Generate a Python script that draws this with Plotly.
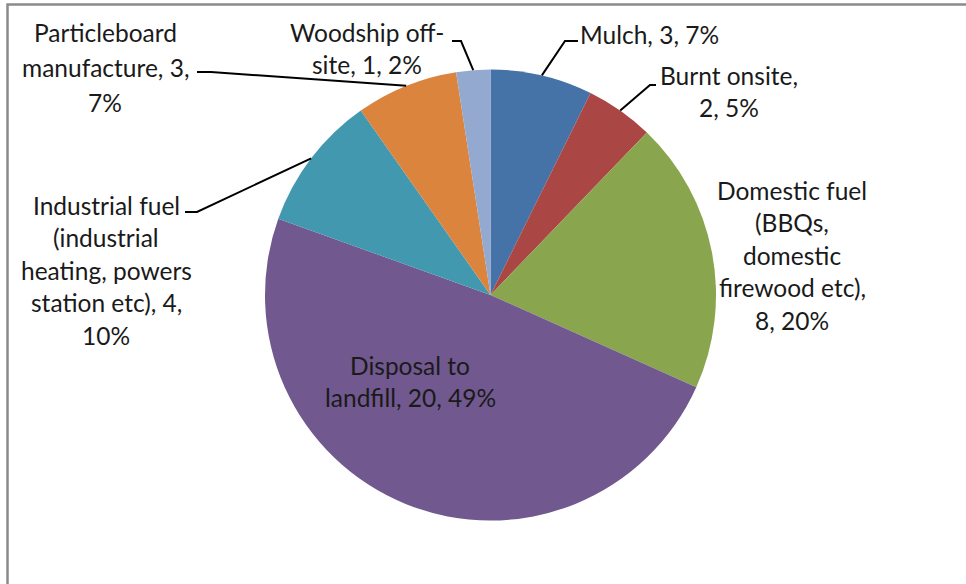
import math
import plotly.graph_objects as go

# Wood waste destinations (counts) in drawing order, clockwise from 12 o'clock
categories = [
    "Mulch",
    "Burnt onsite",
    "Domestic fuel (BBQs, domestic firewood etc)",
    "Disposal to landfill",
    "Industrial fuel (industrial heating, powers station etc)",
    "Particleboard manufacture",
    "Woodship off-site",
]
counts = [3, 2, 8, 20, 4, 3, 1]
colors = ["#4572A7", "#AA4643", "#89A54E", "#71588F", "#4198AF", "#DB843D", "#93A9CF"]

# Wrapped label templates ({v} = count, {p} = percent), "|" marks a line break
label_templates = [
    "Mulch, {v}, {p}%",
    "Burnt onsite,|{v}, {p}%",
    "Domestic fuel|(BBQs,|domestic|firewood etc),|{v}, {p}%",
    "Disposal to|landfill, {v}, {p}%",
    "Industrial fuel|(industrial|heating, powers|station etc), {v},|{p}%",
    "Particleboard|manufacture, {v},|{p}%",
    "Woodship off-|site, {v}, {p}%",
]

W, H = 966, 584
CX, CY, R = 490.5, 295.0, 225.5   # pie centre / radius in pixels

# label block placement: (centre x, first-line y, line spacing) in pixels
label_pos = [
    (649, 35, 33),
    (729, 76, 32),
    (792, 190, 32.5),
    (410, 365, 32),
    (106, 205, 32.5),
    (105, 33, 34.5),
    (367, 32, 33),
]
# leader line horizontal stub (x0, x1, y) in pixels; None = no leader
leaders = [
    (578, 565, 41),
    (656, 650, 85),
    None,
    None,
    (185, 197, 212),
    (197, 211, 72),
    (452, 461, 41),
]


def px(x):
    return x / W


def py(y):
    return 1 - y / H


fig = go.Figure(go.Pie(
    values=counts,
    labels=categories,
    marker=dict(colors=colors, line=dict(width=0)),
    sort=False,
    direction="clockwise",
    rotation=0,
    textinfo="none",
    showlegend=False,
    domain=dict(x=[px(CX - R), px(CX + R)], y=[py(CY + R), py(CY - R)]),
))

total = sum(counts)
annotations = []
shapes = []
cum = 0.0
TEXT = "#1a1a1a"
for i, v in enumerate(counts):
    mid = (cum + v / 2) / total * 2 * math.pi
    cum += v
    pct = round(100 * v / total)
    lines = label_templates[i].format(v=v, p=pct).split("|")
    lx, ly, sp = label_pos[i]
    for k, line in enumerate(lines):
        annotations.append(dict(
            x=px(lx), y=py(ly + k * sp), xref="paper", yref="paper",
            text=line, showarrow=False, xanchor="center", yanchor="middle",
            font=dict(family="Lato", size=24.5, color=TEXT),
        ))
    if leaders[i] is not None:
        x0, x1, yl = leaders[i]
        ex = CX + R * math.sin(mid)
        ey = CY - R * math.cos(mid)
        path = f"M {px(x0)} {py(yl)} L {px(x1)} {py(yl)} L {px(ex)} {py(ey)}"
        shapes.append(dict(type="path", xref="paper", yref="paper", path=path,
                           line=dict(color="black", width=2)))

# chart area frame (only left and top edges fall inside the view)
shapes.append(dict(type="rect", xref="paper", yref="paper",
                   x0=px(7.5), x1=1.2, y0=-0.2, y1=py(4.5),
                   line=dict(color="#8a8a8a", width=2.5), layer="below"))

fig.update_layout(
    width=W, height=H,
    margin=dict(l=0, r=0, t=0, b=0),
    paper_bgcolor="white", plot_bgcolor="white",
    annotations=annotations, shapes=shapes,
)

fig.write_html("out.html")
